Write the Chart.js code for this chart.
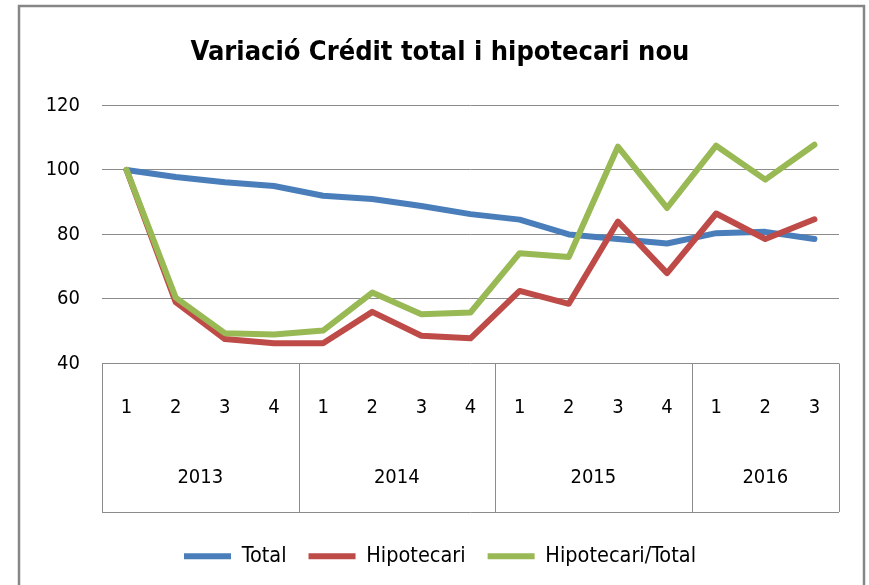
<!DOCTYPE html>
<html>
<head>
<meta charset="utf-8">
<script src="https://cdn.jsdelivr.net/npm/chart.js@4"></script>
<style>
  html, body { margin: 0; padding: 0; background: #fff; }
  #wrap { width: 869px; height: 585px; }
</style>
</head>
<body>
<div id="wrap"><canvas id="chart" width="869" height="585"></canvas></div>
<script>
const quarters = ['1', '2', '3', '4', '1', '2', '3', '4', '1', '2', '3', '4', '1', '2', '3'];
const years = ['2013', '2014', '2015', '2016'];
const quartersPerYear = [4, 4, 4, 3];

const total = [100, 97.8, 96.2, 95, 92, 91, 88.8, 86.3, 84.6, 80, 78.6, 77.2, 80.4, 80.8, 78.6];
const hipotecari = [100, 59, 47.6, 46.3, 46.3, 56, 48.6, 47.8, 62.5, 58.5, 84, 68, 86.5, 78.6, 84.7];
const hipoTotal = [100, 60.4, 49.4, 49, 50.2, 62, 55.3, 55.8, 74.2, 73, 107.2, 88.2, 107.5, 97, 107.8];

const yTicks = [40, 60, 80, 100, 120];

const FONT = "'Liberation Sans Narrow', 'DejaVu Sans Condensed', sans-serif";

const frame = {
  id: 'frame',
  beforeDraw(chart) {
    const ctx = chart.ctx;
    ctx.save();
    ctx.fillStyle = '#fff';
    ctx.fillRect(0, 0, chart.width, chart.height);
    ctx.strokeStyle = '#868686';
    ctx.lineWidth = 2.5;
    ctx.strokeRect(19, 6, 845, 620);
    ctx.restore();
  },
  afterDraw(chart) {
    // year boxes under the quarter labels
    const ctx = chart.ctx;
    const x = chart.scales.x;
    const top = chart.chartArea.bottom;
    const bottom = 512;
    const step = x.getPixelForValue(1) - x.getPixelForValue(0);
    ctx.save();
    ctx.strokeStyle = '#8c8c8c';
    ctx.lineWidth = 1;
    let idx = 0;
    const edges = [x.getPixelForValue(0) - step / 2];
    quartersPerYear.forEach(n => {
      idx += n;
      edges.push(x.getPixelForValue(idx - 1) + step / 2);
    });
    ctx.beginPath();
    edges.forEach(e => {
      const px = Math.round(e) + 0.5;
      ctx.moveTo(px, top);
      ctx.lineTo(px, bottom);
    });
    ctx.moveTo(edges[0], bottom + 0.5);
    ctx.lineTo(edges[edges.length - 1], bottom + 0.5);
    ctx.stroke();
    ctx.fillStyle = '#000';
    ctx.font = '20px ' + FONT;
    ctx.textAlign = 'center';
    ctx.textBaseline = 'middle';
    years.forEach((y, i) => {
      ctx.fillText(y, (edges[i] + edges[i + 1]) / 2, 478);
    });
    ctx.restore();
  }
};

const line = (label, data, color, order) => ({
  label,
  data,
  borderColor: color,
  backgroundColor: color,
  borderWidth: 6,
  borderJoinStyle: 'round',
  borderCapStyle: 'round',
  pointRadius: 0,
  tension: 0,
  fill: false,
  order
});

new Chart(document.getElementById('chart'), {
  type: 'line',
  data: {
    labels: quarters,
    datasets: [
      line('Total', total, '#4a7ebb', 2),
      line('Hipotecari', hipotecari, '#be4b48', 1),
      line('Hipotecari/Total', hipoTotal, '#98b954', 0)
    ]
  },
  options: {
    responsive: false,
    animation: false,
    layout: { padding: { left: 41, right: 30, top: 0, bottom: 8 } },
    plugins: {
      title: {
        display: true,
        text: 'Variació Crédit total i hipotecari nou',
        color: '#000',
        font: { family: FONT, size: 27, weight: 'bold' },
        padding: { top: 37, bottom: 36 }
      },
      legend: {
        position: 'bottom',
        labels: {
          usePointStyle: true,
          pointStyle: 'line',
          pointStyleWidth: 47,
          color: '#000',
          font: { family: FONT, size: 21.5 },
          padding: 22,
          sort: (a, b) => a.datasetIndex - b.datasetIndex
        }
      },
      tooltip: { enabled: false }
    },
    scales: {
      x: {
        offset: true,
        grid: { display: false, drawTicks: false },
        border: { display: false },
        ticks: { color: '#000', font: { family: FONT, size: 20 }, padding: 32, maxRotation: 0 },
        afterFit: s => { s.height = 160; }
      },
      y: {
        min: 40,
        max: 120,
        afterBuildTicks: s => { s.ticks = yTicks.map(v => ({ value: v })); },
        grid: { color: '#8c8c8c', lineWidth: 1, drawTicks: false },
        border: { display: false },
        ticks: { color: '#000', font: { family: FONT, size: 20 }, padding: 22 },
        afterFit: s => { s.width = 61; }
      }
    }
  },
  plugins: [frame]
});
</script>
</body>
</html>
